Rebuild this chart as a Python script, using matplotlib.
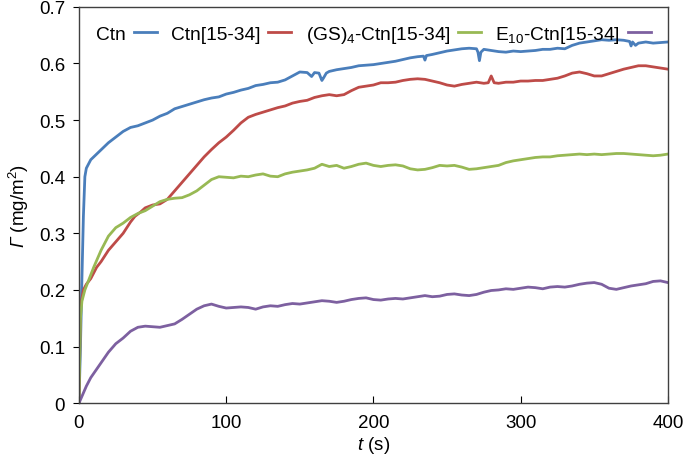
import numpy as np
import matplotlib.pyplot as plt

plt.rcParams['font.family'] = ['Liberation Sans', 'DejaVu Sans']
plt.rcParams['mathtext.fontset'] = 'custom'
plt.rcParams['mathtext.rm'] = 'Liberation Sans'
plt.rcParams['mathtext.it'] = 'Liberation Sans:italic'
plt.rcParams['mathtext.sf'] = 'Liberation Sans:italic'

# values (t in s, Gamma in mg/m2)
t_ctn = [0, 1, 2, 3, 4, 5, 8, 12, 16, 20, 25, 30, 35, 40, 45, 50, 55, 60, 65, 70,
         75, 80, 85, 90, 95, 100, 105, 110, 115, 120, 125, 130, 135, 140, 145, 150,
         155, 158, 160, 163, 165, 166, 168, 170, 175, 180, 185, 190, 195, 200, 205,
         210, 215, 220, 225, 230, 234, 235, 236, 240, 245, 250, 255, 260, 265, 270,
         271, 272, 273, 275, 280, 285, 290, 295, 300, 305, 310, 315, 320, 325, 330,
         335, 340, 345, 350, 355, 360, 365, 370, 374, 375, 376, 378, 380, 385, 390,
         395, 400]
g_ctn = [0, 0.10, 0.22, 0.33, 0.40, 0.415, 0.43, 0.44, 0.45, 0.46, 0.47, 0.48, 0.487,
         0.49, 0.495, 0.50, 0.507, 0.512, 0.52, 0.524, 0.528, 0.532, 0.536, 0.539,
         0.541, 0.546, 0.549, 0.553, 0.556, 0.561, 0.563, 0.566, 0.567, 0.571, 0.578,
         0.585, 0.584, 0.577, 0.584, 0.583, 0.570, 0.574, 0.583, 0.586, 0.589, 0.591,
         0.593, 0.596, 0.597, 0.598, 0.600, 0.602, 0.604, 0.607, 0.610, 0.612, 0.613,
         0.606, 0.614, 0.616, 0.619, 0.622, 0.624, 0.626, 0.627, 0.626, 0.620, 0.605,
         0.620, 0.625, 0.623, 0.621, 0.620, 0.622, 0.621, 0.622, 0.623, 0.625, 0.625,
         0.627, 0.626, 0.632, 0.636, 0.638, 0.640, 0.642, 0.641, 0.642, 0.641, 0.639,
         0.631, 0.638, 0.632, 0.636, 0.638, 0.636, 0.637, 0.638]

t_gs = [0, 1, 3, 5, 8, 12, 15, 20, 25, 30, 35, 38, 42, 45, 50, 55, 60, 65, 70, 75,
        80, 85, 90, 95, 100, 105, 110, 115, 120, 125, 130, 135, 140, 145, 150, 155,
        160, 165, 170, 175, 180, 185, 190, 195, 200, 205, 210, 215, 220, 225, 230,
        235, 240, 245, 250, 255, 260, 265, 270, 275, 278, 280, 282, 285, 290, 295,
        300, 305, 310, 315, 320, 325, 330, 335, 340, 345, 350, 355, 360, 365, 370,
        375, 380, 385, 390, 395, 400]
g_gs = [0, 0.17, 0.20, 0.21, 0.22, 0.24, 0.25, 0.27, 0.285, 0.30, 0.32, 0.33, 0.338,
        0.345, 0.35, 0.352, 0.36, 0.375, 0.39, 0.405, 0.42, 0.435, 0.448, 0.46, 0.47,
        0.482, 0.495, 0.505, 0.51, 0.514, 0.518, 0.522, 0.525, 0.53, 0.533, 0.535,
        0.54, 0.543, 0.545, 0.543, 0.545, 0.552, 0.558, 0.56, 0.562, 0.566, 0.566,
        0.567, 0.57, 0.572, 0.573, 0.572, 0.569, 0.566, 0.562, 0.560, 0.563, 0.565,
        0.567, 0.565, 0.566, 0.578, 0.566, 0.565, 0.567, 0.567, 0.569, 0.569, 0.570,
        0.570, 0.572, 0.574, 0.578, 0.583, 0.585, 0.582, 0.578, 0.578, 0.582, 0.586,
        0.590, 0.593, 0.596, 0.596, 0.594, 0.592, 0.590]

t_e = [0, 1, 2, 4, 7, 10, 15, 20, 25, 30, 35, 40, 45, 50, 55, 60, 65, 70, 75, 80, 85,
       90, 95, 100, 105, 110, 115, 120, 125, 130, 135, 140, 145, 150, 155, 160, 165,
       170, 175, 180, 185, 190, 195, 200, 205, 210, 215, 220, 225, 230, 235, 240, 245,
       250, 255, 260, 265, 270, 275, 280, 285, 290, 295, 300, 305, 310, 315, 320, 325,
       330, 335, 340, 345, 350, 355, 360, 365, 370, 375, 380, 385, 390, 395, 400]
g_e = [0, 0.15, 0.18, 0.20, 0.22, 0.24, 0.27, 0.295, 0.31, 0.318, 0.328, 0.335,
       0.34, 0.348, 0.356, 0.36, 0.362, 0.363, 0.368, 0.375, 0.385, 0.395, 0.400,
       0.399, 0.398, 0.401, 0.400, 0.403, 0.405, 0.401, 0.400, 0.405, 0.408, 0.410,
       0.412, 0.415, 0.422, 0.418, 0.420, 0.415, 0.418, 0.422, 0.424, 0.420, 0.418,
       0.420, 0.421, 0.419, 0.414, 0.412, 0.413, 0.416, 0.420, 0.419, 0.420, 0.417,
       0.413, 0.414, 0.416, 0.418, 0.420, 0.425, 0.428, 0.430, 0.432, 0.434, 0.435,
       0.435, 0.437, 0.438, 0.439, 0.440, 0.439, 0.440, 0.439, 0.440, 0.441, 0.441,
       0.440, 0.439, 0.438, 0.437, 0.438, 0.440]

t_e10 = [0, 2, 5, 8, 12, 16, 20, 25, 30, 35, 40, 45, 50, 55, 60, 65, 70, 75, 80, 85,
         90, 95, 100, 105, 110, 115, 120, 125, 130, 135, 140, 145, 150, 155, 160, 165,
         170, 175, 180, 185, 190, 195, 200, 205, 210, 215, 220, 225, 230, 235, 240,
         245, 250, 255, 260, 265, 270, 275, 280, 285, 290, 295, 300, 305, 310, 315,
         320, 325, 330, 335, 340, 345, 350, 355, 360, 365, 370, 375, 380, 385, 390,
         395, 400]
g_e10 = [0, 0.012, 0.03, 0.045, 0.06, 0.075, 0.09, 0.105, 0.115, 0.127, 0.134, 0.136,
         0.135, 0.134, 0.137, 0.14, 0.148, 0.157, 0.166, 0.172, 0.175, 0.171, 0.168,
         0.169, 0.170, 0.169, 0.166, 0.170, 0.172, 0.171, 0.174, 0.176, 0.175, 0.177,
         0.179, 0.181, 0.180, 0.178, 0.180, 0.183, 0.185, 0.186, 0.183, 0.182, 0.184,
         0.185, 0.184, 0.186, 0.188, 0.190, 0.188, 0.189, 0.192, 0.193, 0.191, 0.190,
         0.192, 0.196, 0.199, 0.200, 0.202, 0.201, 0.203, 0.205, 0.204, 0.202, 0.205,
         0.206, 0.205, 0.207, 0.210, 0.212, 0.213, 0.210, 0.203, 0.201, 0.204, 0.207,
         0.209, 0.211, 0.215, 0.216, 0.213]

labels = ['Ctn', 'Ctn[15-34]', '(GS)$_4$-Ctn[15-34]', 'E$_{10}$-Ctn[15-34]']
colors = ['#4A7EBB', '#BE4B48', '#98B954', '#7D60A0']

fig, ax = plt.subplots(figsize=(6.85, 4.64), dpi=100)
fig.subplots_adjust(left=0.1153, right=0.975, top=0.983, bottom=0.129)

series = [(t_ctn, g_ctn), (t_gs, g_gs), (t_e, g_e), (t_e10, g_e10)]
for (t, g), lab, c in zip(series, labels, colors):
    ax.plot(t, g, color=c, lw=2.0, label=lab)

ax.set_xlim(0, 400)
ax.set_ylim(0, 0.7)
ax.set_xticks([0, 100, 200, 300, 400])
ax.set_yticks(np.arange(0, 0.71, 0.1))
ax.set_yticklabels(['0', '0.1', '0.2', '0.3', '0.4', '0.5', '0.6', '0.7'])
ax.tick_params(axis='x', direction='in', length=5, labelsize=13.5, pad=8)
ax.tick_params(axis='y', direction='out', length=4, labelsize=13.5, pad=6)
for s in ax.spines.values():
    s.set_color('#404040')
    s.set_linewidth(1.0)

ax.set_xlabel('$\\mathit{t}$ (s)', fontsize=13.5, labelpad=2)
# italic capital Gamma: mathit forces Greek capitals upright, so use sf mapped to italic
ax.set_ylabel('$\\mathsf{\\Gamma}$ (mg/m$^2$)', fontsize=13.5, labelpad=6)

ax.legend(loc='upper left', ncol=4, frameon=False, markerfirst=False, fontsize=13.8,
          handlelength=1.2, handletextpad=0.4, columnspacing=0.75,
          borderaxespad=0.5, borderpad=0.4)

fig.savefig('out.png', dpi=100)
